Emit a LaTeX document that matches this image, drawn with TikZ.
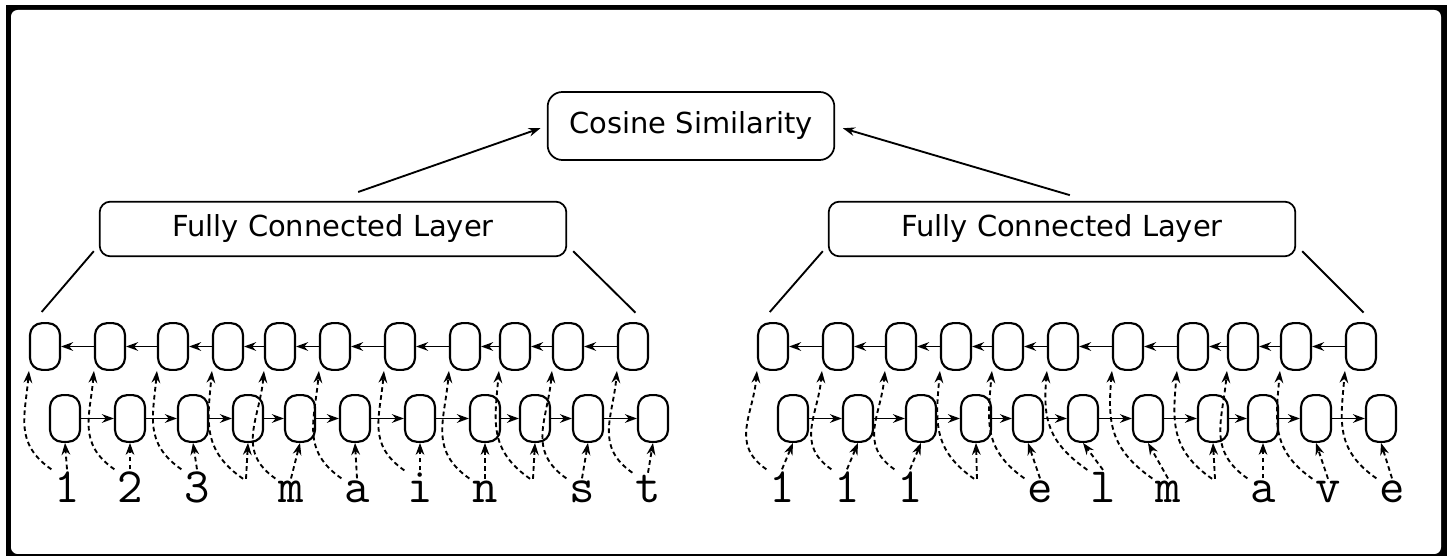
\documentclass[tikz,border=0pt]{standalone}
\usepackage{fontspec}
\setmainfont{DejaVu Sans}
\usetikzlibrary{arrows.meta}

\tikzset{
  cell/.style={draw, line width=1.6pt, rounded corners=9pt, minimum width=22.5pt, minimum height=35pt, inner sep=0pt},
  layerbox/.style={draw, line width=1.3pt, rounded corners=8pt, minimum width=350pt, minimum height=41pt, font=\fontsize{21.7}{26}\selectfont},
  simbox/.style={draw, line width=1.3pt, rounded corners=11pt, minimum width=215pt, minimum height=51pt, font=\fontsize{21.7}{26}\selectfont},
  glyph/.style={font=\ttfamily\fontsize{37}{40}\selectfont, inner sep=2pt, anchor=base},
  edge/.style={line width=1.4pt},
  link/.style={edge, -{Stealth[length=9pt,width=6.5pt]}},
  feed/.style={link, dash pattern=on 3.5pt off 2.5pt},
}

\begin{document}
\begin{tikzpicture}[x=0.75pt,y=0.75pt]
\useasboundingbox (0,0) rectangle (1447,556);
% frame
\fill[black] (6,0) rectangle (1447,551);
\fill[white, rounded corners=5pt] (11,2) rectangle (1441,546);

\node[simbox] (sim) at (691,430) {Cosine Similarity};
\node[layerbox] (fcL) at (333,327) {Fully Connected Layer};
\node[layerbox] (fcR) at (1062,327) {Fully Connected Layer};

% two rows of cells per address
\foreach \i/\x in {1/65,2/130,3/193,4/248,5/300,6/355,7/420,8/485,9/535,10/588,11/653}{
  \node[cell] (tL\i) at (\x-20,209.5) {};
  \node[cell] (bL\i) at (\x,137.5) {};
  \node[cell] (tR\i) at (\x+708,209.5) {};
  \node[cell] (bR\i) at (\x+728,137.5) {};
}

% characters
\foreach \i/\x/\ch in {1/67/1,2/130/2,3/197/3,4/246/{},5/291/m,6/357/a,7/420/i,8/485/n,9/533/{},10/582/s,11/648/t}
  \node[glyph] (cL\i) at (\x,53) {\ch\vphantom{x}};
\foreach \i/\x/\ch in {1/782/1,2/847/1,3/910/1,4/977/{},5/1040/e,6/1103/l,7/1168/m,8/1215/{},9/1263/a,10/1328/v,11/1392/e}
  \node[glyph] (cR\i) at (\x,53) {\ch\vphantom{x}};

\foreach \g in {L,R}{
  \foreach \i in {1,...,11}{
    \draw[feed] (c\g\i.north) -- (b\g\i.south);
    \draw[feed] (c\g\i.north west) to[out=145,in=-95,looseness=1.15] (t\g\i.south west);
  }
  \foreach \i [evaluate=\i as \j using int(\i+1)] in {1,...,10}{
    \draw[link] (b\g\i) -- (b\g\j);
    \draw[link] (t\g\j) -- (t\g\i);
  }
  \draw[edge, shorten >=10pt] ([shift={(-5,6)}]fc\g.south west) -- ([shift={(-12,0)}]t\g1.north);
  \draw[edge, shorten >=10pt] ([shift={(6,6)}]fc\g.south east) -- ([shift={(12,0)}]t\g11.north);
}

\draw[link, shorten <=20pt, shorten >=5pt] (fcL.north) -- (sim.west);
\draw[link, shorten <=15pt, shorten >=6pt] ([shift={(27,0)}]fcR.north) -- (sim.east);
\end{tikzpicture}
\end{document}
